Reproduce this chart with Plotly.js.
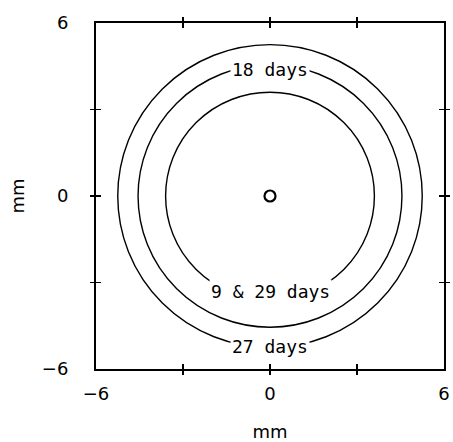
<!DOCTYPE html>
<html><head><meta charset="utf-8">
<script src="https://cdn.plot.ly/plotly-3.0.1.min.js"></script>
<style>body{margin:0;background:#fff}</style>
</head><body><div id="plot" style="width:453px;height:442px"></div>
<script>
// ring radii (mm) and labels
const ringRadii = [3.6, 4.55, 5.25];
const ringLabels = ["9 & 29 days", "18 days", "27 days"];
const centerX = [0];
const centerY = [0];
const labelTickVals = [-6, 0, 6];
const labelTickText = ["\u22126", "0", "6"];
const minorTickVals = [-3, 0, 3];

const labelSide = [-1, 1, -1];   // below / above centre
const labelShift = [8, -5, 1];    // px

const shapes = ringRadii.map(r => ({
  type: 'circle', xref: 'x', yref: 'y', x0: -r, x1: r, y0: -r, y1: r,
  line: {color: '#000', width: 1.4}, layer: 'above'
}));
const annotations = ringRadii.map((r, i) => ({
  x: 0, y: labelSide[i] * r, xref: 'x', yref: 'y', text: ringLabels[i],
  showarrow: false, yshift: labelShift[i], bgcolor: '#fff', borderpad: 1,
  font: {family: 'DejaVu Sans Mono', size: 18, color: '#000'}
}));

const font = {family: 'DejaVu Sans', size: 18, color: '#000'};
const baseAx = {range: [-6, 6], fixedrange: true, showgrid: false, zeroline: false};

const data = [
  {x: centerX, y: centerY, type: 'scatter', mode: 'markers', hoverinfo: 'skip',
   marker: {symbol: 'circle-open', size: 11, color: '#000', line: {width: 2.2, color: '#000'}}},
  {x: centerX, y: centerY, type: 'scatter', mode: 'markers', xaxis: 'x2', yaxis: 'y2',
   hoverinfo: 'skip', marker: {opacity: 0}},
  {x: centerX, y: centerY, type: 'scatter', mode: 'markers', xaxis: 'x3', yaxis: 'y3',
   hoverinfo: 'skip', marker: {opacity: 0}}
];

const layout = {
  width: 453, height: 442, showlegend: false,
  margin: {l: 96, r: 9, t: 23, b: 73},
  paper_bgcolor: '#fff', plot_bgcolor: '#fff', font: font,
  xaxis: Object.assign({}, baseAx, {
    tickmode: 'array', tickvals: labelTickVals, ticktext: labelTickText,
    ticks: '', showline: true, linecolor: '#000', linewidth: 2, mirror: true,
    ticklabelstandoff: 7, tickfont: font,
    title: {text: 'mm', font: font, standoff: 27}
  }),
  yaxis: Object.assign({}, baseAx, {
    tickmode: 'array', tickvals: labelTickVals, ticktext: labelTickText,
    ticks: '', showline: true, linecolor: '#000', linewidth: 2, mirror: true,
    ticklabelstandoff: 22, tickfont: font,
    title: {text: 'mm', font: font, standoff: 13}
  }),
  xaxis2: Object.assign({}, baseAx, {overlaying: 'x', anchor: 'y2', tickmode: 'array',
    tickvals: minorTickVals, ticks: 'outside', ticklen: 5, tickwidth: 1.5, tickcolor: '#000',
    mirror: 'ticks', showticklabels: false, showline: false}),
  yaxis2: Object.assign({}, baseAx, {overlaying: 'y', anchor: 'x2', tickmode: 'array',
    tickvals: minorTickVals, ticks: 'outside', ticklen: 5, tickwidth: 1.5, tickcolor: '#000',
    mirror: 'ticks', showticklabels: false, showline: false}),
  xaxis3: Object.assign({}, baseAx, {overlaying: 'x', anchor: 'y3', tickmode: 'array',
    tickvals: minorTickVals, ticks: 'inside', ticklen: 5, tickwidth: 1.5, tickcolor: '#000',
    mirror: 'ticks', showticklabels: false, showline: false}),
  yaxis3: Object.assign({}, baseAx, {overlaying: 'y', anchor: 'x3', tickmode: 'array',
    tickvals: minorTickVals, ticks: 'inside', ticklen: 5, tickwidth: 1.5, tickcolor: '#000',
    mirror: 'ticks', showticklabels: false, showline: false}),
  shapes: shapes,
  annotations: annotations
};

Plotly.newPlot('plot', data, layout, {staticPlot: true, displayModeBar: false});
</script></body></html>
